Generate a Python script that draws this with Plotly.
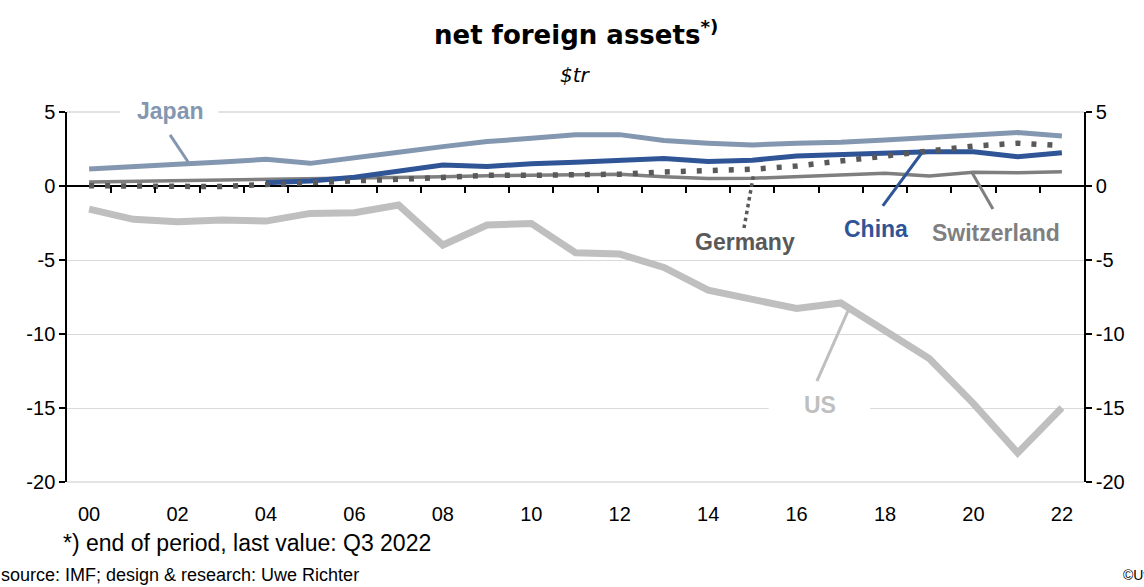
import plotly.graph_objects as go

# net foreign assets, $tr, end of period (2022: Q3)
years = list(range(2000, 2023))
tick_years = list(range(2000, 2023, 2))
tick_labels = [f"{y % 100:02d}" for y in tick_years]
y_ticks = [-20, -15, -10, -5, 0, 5]
y_tick_labels = [str(v) for v in y_ticks]

japan = [1.15, 1.35, 1.47, 1.62, 1.80, 1.53, 1.87, 2.28, 2.66, 3.00, 3.22, 3.47,
         3.47, 3.07, 2.89, 2.77, 2.89, 2.95, 3.11, 3.29, 3.45, 3.61, 3.38]
china = [None, None, None, None, 0.22, 0.34, 0.59, 1.02, 1.42, 1.31, 1.51, 1.60,
         1.74, 1.85, 1.65, 1.74, 2.03, 2.12, 2.19, 2.32, 2.32, 1.98, 2.25]
switzerland = [0.27, 0.31, 0.35, 0.39, 0.45, 0.47, 0.50, 0.55, 0.62, 0.70, 0.74, 0.76,
               0.79, 0.63, 0.50, 0.52, 0.63, 0.70, 0.86, 0.68, 0.93, 0.90, 0.97]
germany = [0.02, -0.02, -0.03, -0.04, 0.10, 0.27, 0.35, 0.45, 0.60, 0.72, 0.72, 0.74,
           0.80, 0.95, 1.05, 1.13, 1.35, 1.71, 1.98, 2.35, 2.70, 2.89, 2.73]
us = [-1.56, -2.25, -2.41, -2.30, -2.37, -1.85, -1.80, -1.29, -3.99, -2.64, -2.53, -4.51,
      -4.60, -5.50, -7.04, -7.60, -8.28, -7.90, -9.80, -11.66, -14.70, -18.04, -14.98]

C_JAPAN = "#8497B0"
C_CHINA = "#2F5597"
C_SWISS = "#7F7F7F"
C_GERMANY = "#595959"
C_US = "#BFBFBF"
C_GRID = "#DADADA"

Y_MIN, Y_MAX = -20, 5
X_MIN, X_MAX = 1999.5, 2022.5

# plot area in pixels (used to place paper-referenced notes)
W, H = 1144, 587
M_L, M_R, M_T, M_B = 67, 60, 112, 105
PLOT_W, PLOT_H = W - M_L - M_R, H - M_T - M_B


def px_x(px):
    return (px - M_L) / PLOT_W


def px_y(py):
    return (H - M_B - py) / PLOT_H


fig = go.Figure()

fig.add_trace(go.Scatter(x=years, y=us, mode="lines",
                         line=dict(color=C_US, width=7), showlegend=False))
fig.add_trace(go.Scatter(x=years, y=switzerland, mode="lines",
                         line=dict(color=C_SWISS, width=3.5), showlegend=False))
fig.add_trace(go.Scatter(x=years, y=china, mode="lines",
                         line=dict(color=C_CHINA, width=5), showlegend=False))
fig.add_trace(go.Scatter(x=years, y=japan, mode="lines",
                         line=dict(color=C_JAPAN, width=5), showlegend=False))
fig.add_trace(go.Scatter(x=years, y=germany, mode="lines",
                         line=dict(color=C_GERMANY, width=5.5, dash="5px,11px"),
                         showlegend=False))
# carrier trace for the right-hand axis and the tick marks on the zero line
fig.add_trace(go.Scatter(x=[None], y=[None], xaxis="x2", yaxis="y2",
                         showlegend=False, hoverinfo="skip"))

axis_font = dict(family="Liberation Sans, Arial, sans-serif", size=20, color="black")

fig.update_layout(
    width=W, height=H,
    margin=dict(l=M_L, r=M_R, t=M_T, b=M_B),
    paper_bgcolor="white", plot_bgcolor="white",
    xaxis=dict(range=[X_MIN, X_MAX], tickvals=tick_years, ticktext=tick_labels,
               ticks="outside", ticklen=14, tickcolor="rgba(0,0,0,0)",
               showgrid=False, zeroline=False, showline=False,
               tickfont=axis_font),
    xaxis2=dict(range=[X_MIN, X_MAX], overlaying="x", anchor="free",
                position=(0 - Y_MIN) / (Y_MAX - Y_MIN), side="bottom",
                tickvals=[y + 0.5 for y in years[:-1]], ticks="outside",
                ticklen=6, tickwidth=1.5, tickcolor="black",
                showticklabels=False, showgrid=False, zeroline=False, showline=False),
    yaxis=dict(range=[Y_MIN, Y_MAX], tickvals=y_ticks, ticktext=y_tick_labels,
               ticks="outside", ticklen=6,
               tickwidth=1.5, tickcolor="black", showline=True, linecolor="black",
               linewidth=1.5, showgrid=True, gridcolor=C_GRID, gridwidth=1.2,
               zeroline=True, zerolinecolor="black", zerolinewidth=1.5,
               tickfont=axis_font),
    yaxis2=dict(range=[Y_MIN, Y_MAX], tickvals=y_ticks, ticktext=y_tick_labels,
                overlaying="y", side="right",
                ticks="outside", ticklen=6, tickwidth=1.5, tickcolor="black",
                showline=True, linecolor="black", linewidth=1.5,
                showgrid=False, zeroline=False, tickfont=axis_font),
)

# gridlines on the top and bottom edges of the plot area
for yp in (0, 1):
    fig.add_shape(type="line", xref="paper", yref="paper", x0=0, x1=1, y0=yp, y1=yp,
                  line=dict(color=C_GRID, width=1.5), layer="between")

# white gaps in the gridlines behind series labels
fig.add_shape(type="rect", xref="x", yref="paper", x0=2000.70, x1=2002.92,
              y0=0.97, y1=1.03, fillcolor="white", line=dict(width=0), layer="between")
fig.add_shape(type="rect", xref="x", yref="y", x0=2015.37, x1=2017.66,
              y0=-15.4, y1=-14.6, fillcolor="white", line=dict(width=0), layer="between")

# leader lines from labels to series
leaders = [
    (2001.83, 3.45, 2002.24, 1.62, C_JAPAN, "solid", 3),
    (2014.81, -2.84, 2015.03, 0.81, C_GERMANY, "dot", 3.5),
    (2017.95, -1.35, 2018.83, 2.23, C_CHINA, "solid", 3),
    (2020.44, -1.56, 2019.96, 0.95, C_SWISS, "solid", 3),
    (2016.46, -13.19, 2017.16, -8.46, C_US, "solid", 3),
]
for x0, y0, x1, y1, col, dash, w in leaders:
    fig.add_shape(type="line", xref="x", yref="y", x0=x0, y0=y0, x1=x1, y1=y1,
                  line=dict(color=col, width=w, dash=dash), layer="above")

label_font = "Liberation Sans, Arial, sans-serif"
labels = [
    ("Japan", 2001.83, 4.99, 1, C_JAPAN),
    ("Germany", 2014.83, -3.79, 0, C_GERMANY),
    ("China", 2017.79, -2.91, 0, C_CHINA),
    ("Switzerland", 2020.50, -3.18, 0, C_SWISS),
    ("US", 2016.53, -14.82, 0, C_US),
]
for text, x, y, ys, col in labels:
    fig.add_annotation(x=x, y=y, xref="x", yref="y", yshift=ys, text=f"<b>{text}</b>",
                       showarrow=False, xanchor="center", yanchor="middle",
                       font=dict(family=label_font, size=23, color=col))

# titles and notes
fig.add_annotation(x=0.5, y=px_y(33), xref="paper", yref="paper",
                   text="<b>net foreign assets<sup>*)</sup></b>", showarrow=False,
                   xanchor="center", yanchor="middle",
                   font=dict(family="DejaVu Sans, Verdana, sans-serif", size=26, color="black"))
fig.add_annotation(x=0.5, y=px_y(75), xref="paper", yref="paper",
                   text="<i>$tr</i>", showarrow=False, xanchor="center", yanchor="middle",
                   font=dict(family="DejaVu Sans, Verdana, sans-serif", size=20, color="black"))

fig.add_annotation(x=px_x(61), y=px_y(543), xref="paper", yref="paper",
                   text="*) end of period, last value: Q3 2022", showarrow=False,
                   xanchor="left", yanchor="middle",
                   font=dict(family=label_font, size=23, color="black"))
fig.add_annotation(x=px_x(-1), y=px_y(575), xref="paper", yref="paper",
                   text="source: IMF; design & research: Uwe Richter", showarrow=False,
                   xanchor="left", yanchor="middle",
                   font=dict(family=label_font, size=18, color="black"))
fig.add_annotation(x=px_x(1121), y=px_y(575), xref="paper", yref="paper",
                   text="©Uwe Richter", showarrow=False, xanchor="left", yanchor="middle",
                   font=dict(family=label_font, size=14, color="black"))

fig.write_html("out.html")
